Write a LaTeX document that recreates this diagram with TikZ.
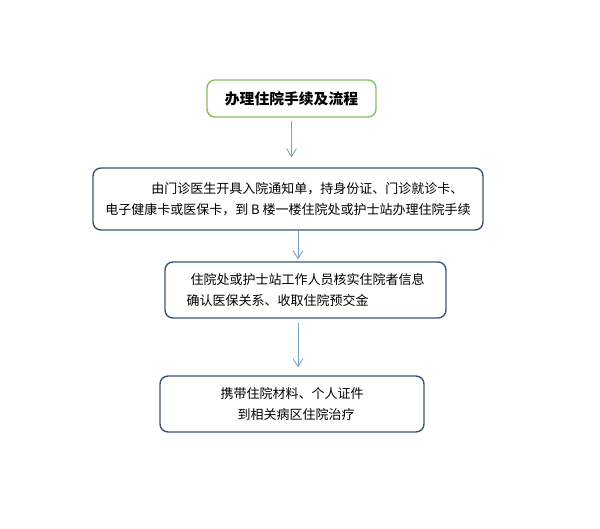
\documentclass[tikz,border=0pt]{standalone}
\usepackage{fontspec}
\newfontfamily\cjk{Noto Sans CJK SC}
\usetikzlibrary{
  arrows.meta,
  positioning
}
\definecolor{titlegreen}{RGB}{135,190,95}
\definecolor{boxblue}{RGB}{60,85,115}
\definecolor{arrowblue}{RGB}{115,160,205}
\tikzset{
  titlebox/.style={draw=titlegreen, line width=0.7pt, rounded corners=4pt,
    minimum width=84.5pt, minimum height=18.5pt, inner sep=0pt,
    font=\cjk\bfseries\fontsize{7.4}{9}\selectfont},
  stepbox/.style={draw=boxblue, line width=0.7pt, rounded corners=4pt,
    inner sep=0pt, font=\cjk\fontsize{6.5}{10.5}\selectfont},
  flowarrow/.style={draw=arrowblue, line width=0.4pt,
    -{Straight Barb[length=4pt,width=5pt]}}
}

\begin{document}
\begin{tikzpicture}[x=0.5pt, y=-0.5pt]
        \useasboundingbox (0,0) rectangle (600,529);
        % boxes
        \node[titlebox] (title) at (291.5, 98.5) {办理住院手续及流程};
        \node[stepbox, minimum width=195pt, minimum height=31pt, align=left]
            (info) at (288, 199)
            {\hspace*{23pt}由门诊医生开具入院通知单，持身份证、门诊就诊卡、\\
             电子健康卡或医保卡，到 B 楼一楼住院处或护士站办理住院手续};
        \node[stepbox, minimum width=140.5pt, minimum height=28pt, align=left]
            (check) at (305.5, 290)
            {\hspace*{2pt}住院处或护士站工作人员核实住院者信息\\
             确认医保关系、收取住院预交金};
        \node[stepbox, minimum width=132pt, minimum height=28pt, align=center]
            (ward) at (292, 404)
            {携带住院材料、个人证件\\
             \hspace*{4pt}到相关病区住院治疗};
        % arrows
        \draw[flowarrow, shorten <=1.5pt, shorten >=5pt]
            (title.south) -- (title.south |- info.north);
        \draw[flowarrow, shorten >=1pt]
            ([xshift=5pt]info.south) -- ([xshift=5pt]info.south |- check.north);
        \draw[flowarrow, shorten <=2pt, shorten >=4pt]
            ([xshift=-3.75pt]check.south) -- ([xshift=-3.75pt]check.south |- ward.north);
\end{tikzpicture}
\end{document}
